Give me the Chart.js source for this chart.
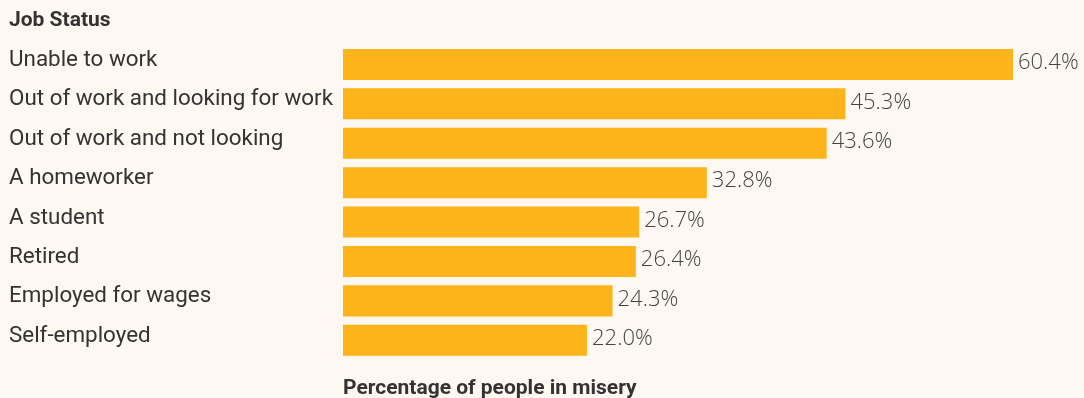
<!DOCTYPE html>
<html>
<head>
<meta charset="utf-8">
<script src="https://cdn.jsdelivr.net/npm/chart.js@4"></script>
<style>
  html, body { margin: 0; padding: 0; background: #fdf8f1; }
  #wrap { width: 1084px; height: 398px; }
</style>
</head>
<body>
<div id="wrap"><canvas id="c" width="1084" height="398"></canvas></div>
<script>
// Share of people in misery, by job status
const jobStatus = [
  'Unable to work',
  'Out of work and looking for work',
  'Out of work and not looking',
  'A homeworker',
  'A student',
  'Retired',
  'Employed for wages',
  'Self-employed'
];
const miseryPct = [60.4, 45.3, 43.6, 32.8, 26.7, 26.4, 24.3, 22.0];

const BAR = '#fdb31a';
const TEXT = '#333333';

// Writes each bar's value just past its end
const valueLabels = {
  id: 'valueLabels',
  afterDatasetsDraw(chart) {
    const ctx = chart.ctx;
    const meta = chart.getDatasetMeta(0);
    ctx.save();
    ctx.font = '300 22px "Open Sans"';
    ctx.fillStyle = '#444444';
    ctx.textAlign = 'left';
    ctx.textBaseline = 'middle';
    meta.data.forEach((bar, i) => {
      ctx.fillText(miseryPct[i].toFixed(1) + '%', bar.x + 5, bar.y - 1.5);
    });
    ctx.restore();
  }
};

new Chart(document.getElementById('c'), {
  type: 'bar',
  data: {
    labels: jobStatus,
    datasets: [{
      data: miseryPct,
      backgroundColor: BAR,
      borderWidth: 0,
      categoryPercentage: 1,
      barPercentage: 0.787
    }]
  },
  options: {
    indexAxis: 'y',
    responsive: false,
    animation: false,
    layout: { padding: { left: 9, right: 0, top: 0, bottom: 0 } },
    plugins: {
      legend: { display: false },
      tooltip: { enabled: false },
      title: {
        display: true,
        text: 'Job Status',
        align: 'start',
        color: TEXT,
        font: { family: 'Roboto', size: 21, weight: 'bold' },
        padding: { top: 8.5, bottom: 11 }
      }
    },
    scales: {
      x: {
        min: 0,
        max: 66.8,
        grid: { display: false, drawTicks: false },
        border: { display: false },
        ticks: { display: false },
        afterFit(scale) { scale.height = 38; },
        title: {
          display: true,
          text: 'Percentage of people in misery',
          align: 'start',
          color: TEXT,
          font: { family: 'Roboto', size: 21, weight: 'bold' },
          padding: { top: 0, bottom: -3 }
        }
      },
      y: {
        grid: { display: false, drawTicks: false },
        border: { display: false },
        afterFit(scale) { scale.width = 334; },
        ticks: {
          crossAlign: 'far',
          color: TEXT,
          labelOffset: -4,
          font: { family: 'Roboto', size: 22.4 }
        }
      }
    }
  },
  plugins: [valueLabels]
});
</script>
</body>
</html>
